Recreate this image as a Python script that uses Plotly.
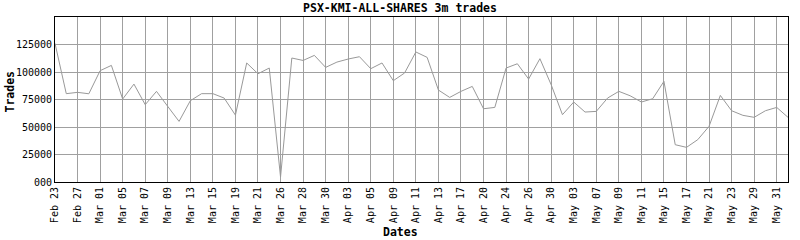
import plotly.graph_objects as go

dates = [
    "Feb 23", "Feb 26", "Feb 27", "Feb 28", "Mar 01", "Mar 04", "Mar 05", "Mar 06",
    "Mar 07", "Mar 08", "Mar 09", "Mar 12", "Mar 13", "Mar 14", "Mar 15", "Mar 18",
    "Mar 19", "Mar 20", "Mar 21", "Mar 22", "Mar 26", "Mar 27", "Mar 28", "Mar 29",
    "Mar 30", "Apr 02", "Apr 03", "Apr 04", "Apr 05", "Apr 08", "Apr 09", "Apr 10",
    "Apr 11", "Apr 12", "Apr 13", "Apr 16", "Apr 17", "Apr 18", "Apr 20", "Apr 23",
    "Apr 24", "Apr 25", "Apr 26", "Apr 29", "Apr 30", "May 02", "May 03", "May 06",
    "May 07", "May 08", "May 09", "May 10", "May 11", "May 14", "May 15", "May 16",
    "May 17", "May 20", "May 21", "May 22", "May 23", "May 28", "May 29", "May 30",
    "May 31", "Jun 03",
]

trades = [
    126000, 80300, 81500, 80200, 101200, 106000, 75400, 89000,
    70300, 82400, 68700, 55100, 73900, 80300, 80300, 76300,
    60800, 108200, 98400, 103600, 4500, 112700, 110500, 115100,
    104200, 109000, 111800, 113900, 103000, 108200, 92100, 99100,
    118200, 113300, 83600, 76900, 82400, 86900, 66600, 67800,
    103600, 107500, 93600, 112100, 88400, 61200, 72700, 63600,
    64200, 76300, 82400, 78400, 72700, 75700, 91500, 33900,
    31500, 38500, 50600, 78700, 64800, 60600, 58800, 64800,
    67800, 58800,
]

x_tick_labels = dates[::2]
y_tick_values = [0, 25000, 50000, 75000, 100000, 125000]
y_tick_labels = ["000", "25000", "50000", "75000", "100000", "125000"]

FONT = "DejaVu Sans Mono"
GRID = "#a0a0a0"

fig = go.Figure()
fig.add_trace(go.Scatter(
    x=list(range(len(dates))), y=trades, mode="lines",
    line=dict(color="#999999", width=1),
    hoverinfo="skip", showlegend=False,
))

fig.update_layout(
    width=800, height=240,
    margin=dict(l=55, r=12, t=17, b=58),
    paper_bgcolor="white", plot_bgcolor="white",
    font=dict(family=FONT, size=10, color="black"),
    title=dict(text="<b>PSX-KMI-ALL-SHARES 3m trades</b>", xref="container",
               x=0.5, xanchor="center", yref="container", y=1 - 8 / 240,
               yanchor="middle", font=dict(family=FONT, size=11.5, color="black")),
    xaxis=dict(
        range=[0, len(dates) - 1],
        tickmode="array",
        tickvals=list(range(0, len(dates), 2)),
        ticktext=x_tick_labels,
        tickangle=-90,
        showgrid=True, gridcolor=GRID, gridwidth=1,
        showline=True, linecolor="black", linewidth=1, mirror=True,
        ticks="", zeroline=False,
        tickfont=dict(family=FONT, size=10, color="black"),
    ),
    yaxis=dict(
        range=[0, 150000],
        tickmode="array",
        tickvals=y_tick_values,
        ticktext=y_tick_labels,
        showgrid=True, gridcolor=GRID, gridwidth=1,
        showline=True, linecolor="black", linewidth=1, mirror=True,
        ticks="", zeroline=False,
        tickfont=dict(family=FONT, size=10, color="black"),
    ),
    annotations=[
        dict(text="<b>Dates</b>", xref="paper", yref="paper",
             x=(400 - 55) / 733, y=(182 - 231.5) / 165,
             xanchor="center", yanchor="middle", showarrow=False,
             font=dict(family=FONT, size=11.5, color="black")),
        dict(text="<b>Trades</b>", xref="paper", yref="paper",
             x=(9 - 55) / 733, y=(182 - 91.5) / 165, textangle=-90,
             xanchor="center", yanchor="middle", showarrow=False,
             font=dict(family=FONT, size=11.5, color="black")),
    ],
)

fig.write_html("out.html")
